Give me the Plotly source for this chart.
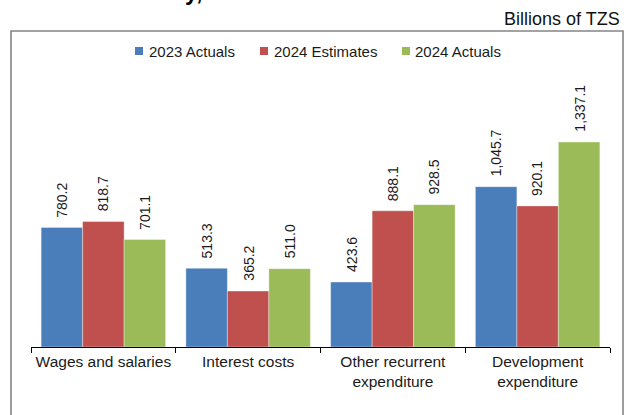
import plotly.graph_objects as go

# Expenditure by category, billions of TZS
categories = ["Wages and salaries", "Interest costs",
              "Other recurrent<br>expenditure", "Development<br>expenditure"]
series_names = ["2023 Actuals", "2024 Estimates", "2024 Actuals"]
actuals_2023 = [780.2, 513.3, 423.6, 1045.7]
estimates_2024 = [818.7, 365.2, 888.1, 920.1]
actuals_2024 = [701.1, 511.0, 928.5, 1337.1]
series_values = [actuals_2023, estimates_2024, actuals_2024]
colors = ["#4A7EBB", "#C0504D", "#9BBB59"]

W, H = 629, 415
L, R, T, B = 31, 19, 60, 68
PW, PH = W - L - R, H - T - B
BARGAP = 0.14
FONT = "Arial, Liberation Sans, sans-serif"
TXT = "#1a1a1a"


def px(x):
    return (x - L) / PW


def py(y):
    return (H - B - y) / PH


fig = go.Figure()
for name, vals, col in zip(series_names, series_values, colors):
    fig.add_trace(go.Bar(
        x=categories, y=vals, name=name, showlegend=False,
        marker=dict(color=col, line=dict(width=0.6, color="rgba(255,255,255,0.6)")),
    ))

# rotated value labels above each bar
band = PW / len(categories)
bar_w = band * (1 - BARGAP) / len(series_names)
annotations = []
for i, vals in enumerate(series_values):
    shift = (i - 1) * bar_w
    for cat, v in zip(categories, vals):
        annotations.append(dict(
            x=cat, y=v, xref="x", yref="y", text=f"{v:,.1f}",
            textangle=-90, showarrow=False, xanchor="center", yanchor="bottom",
            xshift=shift, yshift=8, font=dict(family=FONT, size=14, color=TXT),
        ))

# legend row
legend_items = [(135, 147), (260, 272), (402, 413)]
shapes = []
for (sx, tx), name, col in zip(legend_items, series_names, colors):
    shapes.append(dict(type="rect", xref="paper", yref="paper",
                       x0=px(sx), x1=px(sx + 8), y0=py(55), y1=py(47),
                       fillcolor=col, line=dict(width=0)))
    annotations.append(dict(x=px(tx), y=py(51), xref="paper", yref="paper",
                            text=name, showarrow=False, xanchor="left", yanchor="middle",
                            font=dict(family=FONT, size=15, color=TXT)))

# outer frame (open at the bottom)
shapes.append(dict(type="path", xref="paper", yref="paper",
                   path=f"M {px(11)},{py(430)} L {px(11)},{py(31)} L {px(623)},{py(31)} L {px(623)},{py(430)}",
                   line=dict(color="#858585", width=1.6)))

annotations.append(dict(x=px(622), y=py(19), xref="paper", yref="paper",
                        text="Billions of TZS", showarrow=False, xanchor="right", yanchor="middle",
                        font=dict(family=FONT, size=18, color="#111")))
annotations.append(dict(x=px(206), y=py(-8), xref="paper", yref="paper",
                        text="<b>May, 2024</b>", showarrow=False, xanchor="center", yanchor="middle",
                        font=dict(family=FONT, size=23, color="#000")))

fig.update_layout(
    width=W, height=H,
    margin=dict(l=L, r=R, t=T, b=B, autoexpand=False),
    paper_bgcolor="white", plot_bgcolor="white",
    barmode="group", bargap=BARGAP, bargroupgap=0,
    showlegend=False,
    annotations=annotations, shapes=shapes,
    xaxis=dict(
        showline=True, linecolor="#000", linewidth=1,
        ticks="outside", tickson="boundaries", ticklen=5, tickcolor="#000",
        tickangle=0, automargin=False,
        tickfont=dict(family=FONT, size=15.5, color=TXT),
        showgrid=False, zeroline=False,
    ),
    yaxis=dict(range=[0, 1872], visible=False, showgrid=False, zeroline=False,
               automargin=False),
)

fig.write_html("out.html")
